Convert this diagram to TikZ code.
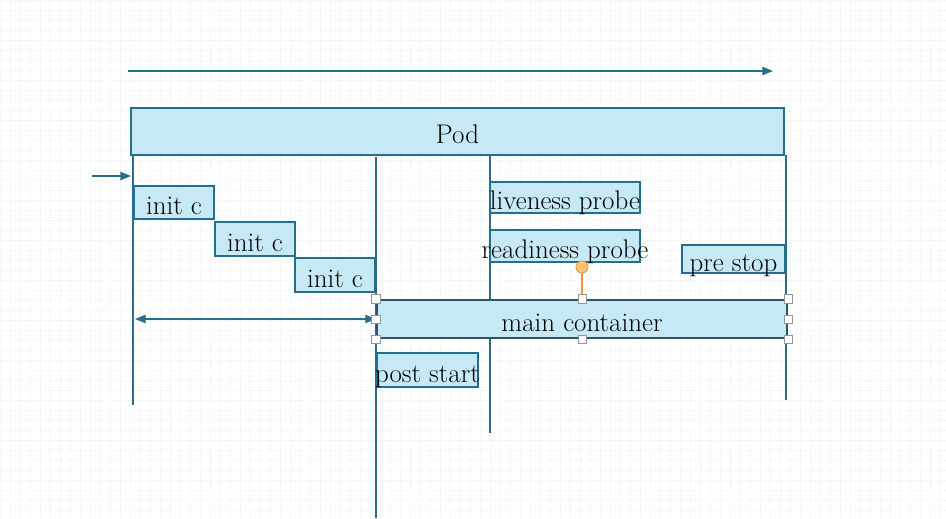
\documentclass[tikz,border=0pt]{standalone}
\usetikzlibrary{arrows.meta}
\definecolor{boxfill}{RGB}{199,233,245}
\definecolor{boxline}{RGB}{38,110,138}
\definecolor{mainline}{RGB}{45,85,100}
\definecolor{gridcol}{RGB}{238,243,247}
\definecolor{handleline}{RGB}{150,150,150}
\definecolor{rotfill}{RGB}{250,196,120}
\definecolor{rotline}{RGB}{238,150,70}
\tikzset{
	phase/.style={draw=boxline, fill=boxfill, line width=1pt, inner sep=0pt,
		font=\fontsize{23}{27}\selectfont, text height=21pt, text depth=0pt},
	timeline/.style={draw=boxline, line width=1.1pt},
	flow/.style={timeline, -{Triangle[length=9pt,width=7pt]}},
	handle/.style={draw=handleline, fill=white, line width=0.6pt, inner sep=0pt,
		minimum size=7pt}
}
\begin{document}
\begin{tikzpicture}[x=0.03cm, y=-0.03cm]
	\useasboundingbox (0,0) rectangle (946,518);
	\fill[white] (0,0) rectangle (946,518);
	\foreach \g in {0,10,...,940}
		\draw[gridcol, line width=0.4pt, densely dotted] (\g,0) -- (\g,518);
	\foreach \g in {0,10,...,510}
		\draw[gridcol, line width=0.4pt, densely dotted] (0,\g) -- (946,\g);

	% pod bar and time arrow
	\node[phase, minimum width=653*0.03cm, minimum height=47*0.03cm] (pod) at (457.5,131.5) {Pod};
	\coordinate (t0) at (128,71);
	\coordinate (t1) at (773,71);
	\draw[flow] (t0) -- (t1);

	% vertical marks
	\coordinate (v1a) at (133,155);
	\coordinate (v1) at (133,405);
	\coordinate (v2a) at (376,157);
	\coordinate (v2) at (376,518);
	\coordinate (v3a) at (490,155);
	\coordinate (v3) at (490,433);
	\coordinate (v4a) at (786,155);
	\coordinate (v4) at (786,400);
	\draw[timeline] (v1a) -- (v1);
	\draw[timeline] (v2a) -- (v2);
	\draw[timeline] (v3a) -- (v3);
	\draw[timeline] (v4a) -- (v4);

	% start arrow
	\coordinate (s0) at (92,176);
	\coordinate (s1) at (131,176);
	\draw[flow] (s0) -- (s1);

	% init containers
	\node[phase, minimum width=80*0.03cm, minimum height=33*0.03cm] (init1) at (174,202.5) {init c};
	\node[phase, minimum width=80*0.03cm, minimum height=34*0.03cm] (init2) at (255,239) {init c};
	\node[phase, minimum width=80*0.03cm, minimum height=34*0.03cm] (init3) at (335,275) {init c};

	% probes and hooks
	\node[phase, minimum width=150*0.03cm, minimum height=31*0.03cm] (live) at (565,197.5) {\makebox[0pt]{liveness probe}};
	\node[phase, minimum width=150*0.03cm, minimum height=32*0.03cm] (ready) at (565,246) {\makebox[0pt]{readiness probe}};
	\node[phase, minimum width=103*0.03cm, minimum height=28*0.03cm] (prestop) at (733.5,259) {\makebox[0pt]{pre stop}};
	\node[phase, draw=mainline, line width=2pt, minimum width=410*0.03cm, minimum height=38*0.03cm] (main) at (582,319) {main container};
	\node[phase, minimum width=101*0.03cm, minimum height=34*0.03cm] (post) at (427.5,370) {\makebox[0pt]{post start}};

	% init duration
	\coordinate (d0) at (135,319);
	\draw[timeline, {Triangle[length=9pt,width=7pt]}-{Triangle[length=9pt,width=7pt]}] (d0) -- (main.west);

	% selection handles
	\node[circle, draw=rotline, fill=rotfill, line width=0.8pt, minimum size=12*0.03cm, inner sep=0pt] (rot) at (582,267) {};
	\draw[rotline, line width=1.4pt] (rot.south) -- (rot |- main.north);
	\foreach \anc in {north west,north,north east,west,east,south west,south,south east}
		\node[handle] at (main.\anc) {};
\end{tikzpicture}
\end{document}
